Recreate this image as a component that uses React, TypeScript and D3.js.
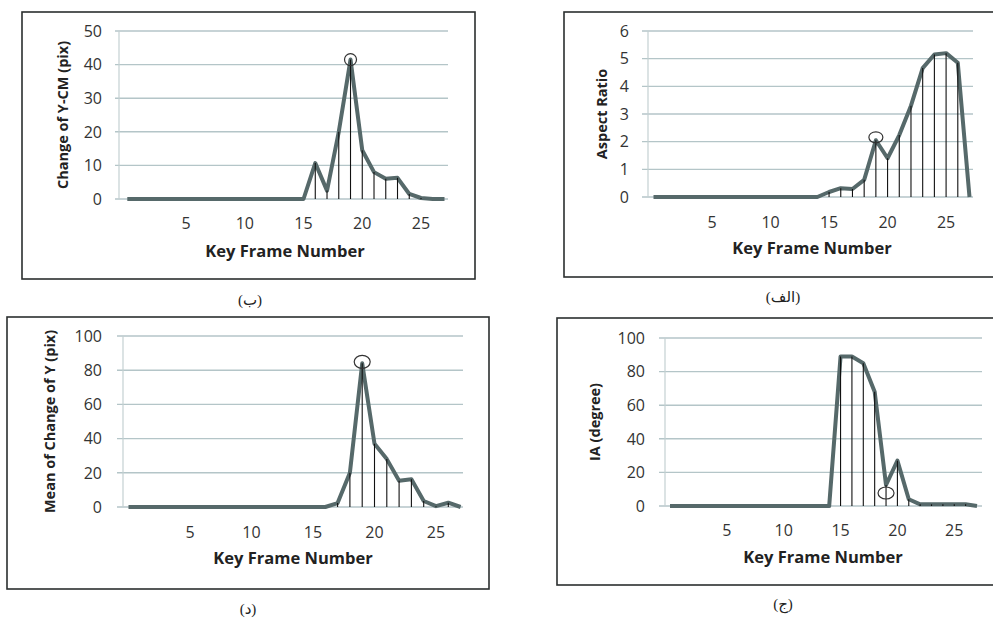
import React, { useEffect, useRef } from "react";
import * as d3 from "d3";

// key frame numbers (0 has no label on the axis)
const frames = [0, 1, 2, 3, 4, 5, 6, 7, 8, 9, 10, 11, 12, 13, 14, 15, 16, 17, 18, 19, 20, 21, 22, 23, 24, 25, 26, 27];
const xTickLabels = [5, 10, 15, 20, 25];

// (ب) change of Y-CM
const changeYCM = [0, 0, 0, 0, 0, 0, 0, 0, 0, 0, 0, 0, 0, 0, 0, 0, 10.7, 2.5, 20, 41.5, 14.5, 8, 6, 6.3, 1.5, 0.3, 0, 0];
const changeYCMTicks = [0, 10, 20, 30, 40, 50];

// (الف) aspect ratio
const aspectRatio = [0, 0, 0, 0, 0, 0, 0, 0, 0, 0, 0, 0, 0, 0, 0, 0.18, 0.32, 0.29, 0.62, 2.05, 1.4, 2.24, 3.3, 4.66, 5.15, 5.2, 4.85, 0];
const aspectTicks = [0, 1, 2, 3, 4, 5, 6];

// (د) mean of change of Y
const meanChangeY = [0, 0, 0, 0, 0, 0, 0, 0, 0, 0, 0, 0, 0, 0, 0, 0, 0, 2.3, 20, 84, 37, 28, 15.4, 16.2, 3.5, 0.5, 2.5, 0];
const meanTicks = [0, 20, 40, 60, 80, 100];

// (ج) IA
const iaDegree = [0, 0, 0, 0, 0, 0, 0, 0, 0, 0, 0, 0, 0, 0, 0, 89, 89, 85, 68, 12.5, 27, 4, 1, 1, 1, 1, 1, 0];
const iaTicks = [0, 20, 40, 60, 80, 100];

const markedFrame = 19;

const panels = [
  {
    values: changeYCM, ticks: changeYCMTicks, yLabel: "Change of Y-CM (pix)", caption: "(ب)",
    frame: [22, 12, 475, 279], yRange: [199, 31], xAt0: 127.3, xAt27: 444.5, grid: [115, 448], axisX: 119,
    tickRight: 102, yLabelX: 63, xTickY: 229, xLabel: [285, 257], captionPos: [250, 305],
    circle: { dy: 0, rx: 6, ry: 6 },
  },
  {
    values: aspectRatio, ticks: aspectTicks, yLabel: "Aspect Ratio", caption: "(الف)",
    frame: [564, 12, 1000, 277], yRange: [197, 31], xAt0: 653.5, xAt27: 969.5, grid: [642, 973], axisX: 648,
    tickRight: 629, yLabelX: 602, xTickY: 228, xLabel: [812, 254], captionPos: [783, 302],
    circle: { dy: -3, rx: 7, ry: 5.5 },
  },
  {
    values: meanChangeY, ticks: meanTicks, yLabel: "Mean of Change of Y (pix)", caption: "(د)",
    frame: [7, 317, 489, 589], yRange: [507, 336], xAt0: 128.5, xAt27: 460.6, grid: [117, 463], axisX: 123,
    tickRight: 102, yLabelX: 50, xTickY: 538, xLabel: [293, 564], captionPos: [248, 614],
    circle: { dy: -1.5, rx: 8, ry: 6.5 },
  },
  {
    values: iaDegree, ticks: iaTicks, yLabel: "IA (degree)", caption: "(ج)",
    frame: [557, 318, 1000, 585], yRange: [506, 338], xAt0: 670, xAt27: 977, grid: [659, 982], axisX: 665,
    tickRight: 645, yLabelX: 595, xTickY: 536, xLabel: [823, 563], captionPos: [783, 609],
    circle: { dy: 8, rx: 8, ry: 6 },
  },
];

const font = "'Open Sans', 'DejaVu Sans', sans-serif";

const App = () => {
  const width = 993;
  const height = 619;
  const ref = useRef(null);

  useEffect(() => {
    const svg = d3.select(ref.current);
    svg.selectAll("*").remove();

    panels.forEach((p) => {
      const g = svg.append("g");
      const [fx0, fy0, fx1, fy1] = p.frame;
      const xScale = d3.scaleLinear().domain([frames[0], frames[frames.length - 1]]).range([p.xAt0, p.xAt27]);
      const yScale = d3.scaleLinear().domain([0, d3.max(p.ticks)]).range(p.yRange);
      const data = frames.map((f, i) => ({ frame: f, value: p.values[i] }));

      // outer box
      g.append("rect")
        .attr("x", fx0)
        .attr("y", fy0)
        .attr("width", fx1 - fx0)
        .attr("height", fy1 - fy0)
        .attr("fill", "none")
        .attr("stroke", "#2b2f2f")
        .attr("stroke-width", 1.6);

      // gridlines
      g.append("g")
        .selectAll("line")
        .data(p.ticks)
        .enter()
        .append("line")
        .attr("x1", p.grid[0])
        .attr("x2", p.grid[1])
        .attr("y1", (d) => yScale(d))
        .attr("y2", (d) => yScale(d))
        .attr("stroke", "#b4c5c8")
        .attr("stroke-width", 1.4);

      g.append("line")
        .attr("x1", p.axisX)
        .attr("x2", p.axisX)
        .attr("y1", yScale(0))
        .attr("y2", yScale(d3.max(p.ticks)))
        .attr("stroke", "#c4d0d2")
        .attr("stroke-width", 1.2);

      // y tick labels
      g.append("g")
        .selectAll("text")
        .data(p.ticks)
        .enter()
        .append("text")
        .attr("x", p.tickRight)
        .attr("y", (d) => yScale(d))
        .attr("dy", "0.36em")
        .attr("text-anchor", "end")
        .attr("font-family", font)
        .attr("font-size", 16)
        .attr("fill", "#333")
        .text((d) => d);

      // x tick labels
      g.append("g")
        .selectAll("text")
        .data(xTickLabels)
        .enter()
        .append("text")
        .attr("x", (d) => xScale(d))
        .attr("y", p.xTickY)
        .attr("text-anchor", "middle")
        .attr("font-family", font)
        .attr("font-size", 16)
        .attr("fill", "#333")
        .text((d) => d);

      // axis titles
      g.append("text")
        .attr("transform", `translate(${p.yLabelX},${(p.yRange[0] + p.yRange[1]) / 2}) rotate(-90)`)
        .attr("text-anchor", "middle")
        .attr("dy", "0.35em")
        .attr("font-family", font)
        .attr("font-weight", "bold")
        .attr("font-size", 14.5)
        .attr("fill", "#222")
        .text(p.yLabel);

      g.append("text")
        .attr("x", p.xLabel[0])
        .attr("y", p.xLabel[1])
        .attr("text-anchor", "middle")
        .attr("font-family", font)
        .attr("font-weight", "bold")
        .attr("font-size", 16.5)
        .attr("fill", "#222")
        .text("Key Frame Number");

      const line = d3
        .line()
        .x((d) => xScale(d.frame))
        .y((d) => yScale(d.value));

      g.append("path")
        .datum(data)
        .attr("fill", "none")
        .attr("stroke", "#56696a")
        .attr("stroke-width", 4)
        .attr("stroke-linejoin", "round")
        .attr("d", line);

      // drop lines down from each nonzero point
      g.append("g")
        .selectAll("line")
        .data(data.filter((d) => d.value > 0))
        .enter()
        .append("line")
        .attr("x1", (d) => xScale(d.frame))
        .attr("x2", (d) => xScale(d.frame))
        .attr("y1", (d) => yScale(d.value))
        .attr("y2", yScale(0))
        .attr("stroke", "#111")
        .attr("stroke-width", 1.1);

      const mark = data.find((d) => d.frame === markedFrame);
      g.append("ellipse")
        .attr("cx", xScale(mark.frame))
        .attr("cy", yScale(mark.value) + p.circle.dy)
        .attr("rx", p.circle.rx)
        .attr("ry", p.circle.ry)
        .attr("fill", "none")
        .attr("stroke", "#333")
        .attr("stroke-width", 1.2);

      g.append("text")
        .attr("x", p.captionPos[0])
        .attr("y", p.captionPos[1])
        .attr("text-anchor", "middle")
        .attr("font-family", "'Liberation Serif', 'DejaVu Sans', serif")
        .attr("font-size", 15)
        .attr("fill", "#222")
        .text(p.caption);
    });
  }, []);

  return (
    <svg
      ref={ref}
      width={width}
      height={height}
      style={{ position: "absolute", left: 0, top: 0, background: "#fff" }}
    />
  );
};

export default App;
